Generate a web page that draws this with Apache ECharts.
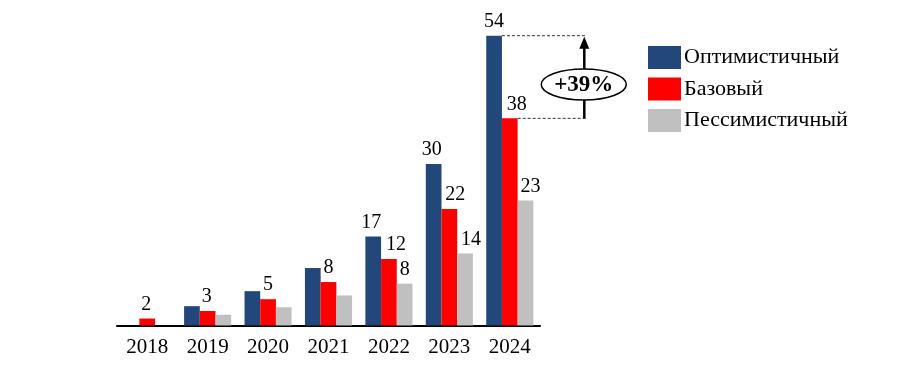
<!DOCTYPE html>
<html><head><meta charset="utf-8">
<script src="https://cdn.jsdelivr.net/npm/echarts@6/dist/echarts.min.js"></script>
<style>html,body{margin:0;padding:0;background:#fff}#c{width:900px;height:387px}</style>
</head><body><div id="c"></div>
<script>
const years = ['2018','2019','2020','2021','2022','2023','2024'];
const seriesNames = ['Оптимистичный','Базовый','Пессимистичный'];
const optimistic = [0, 3.6, 6.4, 10.7, 16.6, 30.1, 54];
const base = [1.3, 2.7, 4.9, 8.1, 12.4, 21.7, 38.6];
const pessimistic = [0, 2.0, 3.4, 5.6, 7.8, 13.4, 23.3];
const optLabels = ['', '', '', '', '17', '30', '54'];
const baseLabels = ['2', '3', '5', '8', '12', '22', '38'];
const pessLabels = ['', '', '', '', '8', '14', '23'];
const growthText = '+39%';

const FONT = '"Liberation Serif","Times New Roman",serif';
const colors = ['#22477A', '#FF0000', '#C0C0C0'];
const BW = 15.7;

function mk(vals, labels, shifts) {
  return vals.map((v, i) => ({
    value: v,
    label: { show: labels[i] !== '', formatter: labels[i], offset: [shifts[i], 0] }
  }));
}

const chart = echarts.init(document.getElementById('c'), null, {renderer: 'canvas'});
const option = {
  animation: false,
  color: colors,
  grid: { left: 117, top: 35.7, width: 423, height: 289.8, containLabel: false },
  legend: {
    orient: 'vertical', left: 648, top: 46, padding: 0,
    itemWidth: 33, itemHeight: 23, itemGap: 8.5,
    icon: 'rect',
    textStyle: { fontFamily: FONT, fontSize: 22, color: '#000', padding: [0, 0, 0, -2] },
    data: seriesNames
  },
  xAxis: {
    type: 'category', data: years,
    axisLine: { lineStyle: { color: '#000', width: 2 } },
    axisTick: { show: false },
    axisLabel: { fontFamily: FONT, fontSize: 21, color: '#000', margin: 11 }
  },
  yAxis: { type: 'value', min: 0, max: 54, show: false, splitLine: { show: false } },
  series: [
    { name: seriesNames[0], type: 'bar', barWidth: BW, barGap: '0%',
      label: { show: true, position: 'top', distance: 4, fontFamily: FONT, fontSize: 20, color: '#000' },
      data: mk(optimistic, optLabels, [0,0,0,0,-2,-2,0]) },
    { name: seriesNames[1], type: 'bar', barWidth: BW, barGap: '0%',
      label: { show: true, position: 'top', distance: 4, fontFamily: FONT, fontSize: 20, color: '#000' },
      data: mk(base, baseLabels, [-1,-1,0,0,7,6,7]) },
    { name: seriesNames[2], type: 'bar', barWidth: BW, barGap: '0%',
      label: { show: true, position: 'top', distance: 4, fontFamily: FONT, fontSize: 20, color: '#000' },
      data: mk(pessimistic, pessLabels, [0,0,0,0,0,6,5]) }
  ]
};
chart.setOption(option);

const last = years.length - 1;
const pTop = chart.convertToPixel({gridIndex: 0}, [years[last], optimistic[last]]);
const pLow = chart.convertToPixel({gridIndex: 0}, [years[last], base[last]]);
const cx = pTop[0];
const xEnd = cx + 76;
const ax = cx + 74.5;
const midY = (pTop[1] + pLow[1]) / 2 + 7.5;
chart.setOption({
  graphic: [
    { type: 'line', shape: { x1: cx - BW / 2, y1: pTop[1], x2: xEnd, y2: pTop[1] },
      style: { stroke: '#333', lineWidth: 1, lineDash: [3, 2] } },
    { type: 'line', shape: { x1: cx + BW / 2, y1: pLow[1], x2: xEnd, y2: pLow[1] },
      style: { stroke: '#333', lineWidth: 1, lineDash: [3, 2] } },
    { type: 'line', shape: { x1: ax, y1: pLow[1], x2: ax, y2: pTop[1] + 10 },
      style: { stroke: '#000', lineWidth: 2.5 } },
    { type: 'polygon', shape: { points: [[ax, pTop[1] + 1], [ax - 5, pTop[1] + 13], [ax + 5, pTop[1] + 13]] },
      style: { fill: '#000' } },
    { type: 'ellipse', shape: { cx: ax - 0.5, cy: midY, rx: 42.5, ry: 15.5 },
      style: { fill: '#fff', stroke: '#000', lineWidth: 1.5 }, z: 10 },
    { type: 'text', x: ax - 0.5, y: midY + 1, z: 11,
      style: { text: growthText, fontFamily: FONT, fontSize: 23, fontWeight: 'bold', fill: '#000',
        align: 'center', verticalAlign: 'middle' } }
  ]
});
</script></body></html>
